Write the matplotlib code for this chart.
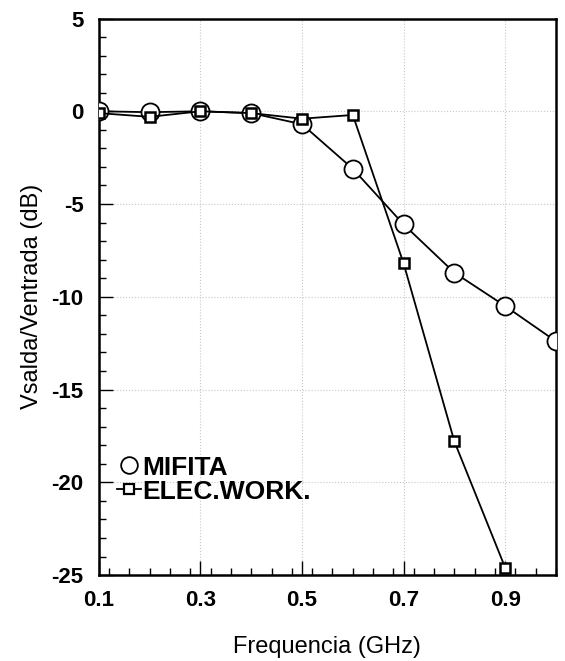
import matplotlib.pyplot as plt
from matplotlib.ticker import MultipleLocator
from matplotlib.lines import Line2D

# datos
freq = [0.1, 0.2, 0.3, 0.4, 0.5, 0.6, 0.7, 0.8, 0.9, 1.0]
mifita = [0.0, -0.05, 0.0, -0.1, -0.7, -3.1, -6.1, -8.7, -10.5, -12.4]
freq_ew = [0.1, 0.2, 0.3, 0.4, 0.5, 0.6, 0.7, 0.8, 0.9]
elecwork = [-0.1, -0.3, 0.0, -0.1, -0.4, -0.2, -8.2, -17.8, -24.6]
xticks = [0.1, 0.3, 0.5, 0.7, 0.9]

plt.rcParams['font.family'] = ['Liberation Sans', 'DejaVu Sans']
plt.rcParams['axes.unicode_minus'] = False

fig = plt.figure(figsize=(5.65, 6.61), dpi=100)
ax = fig.add_axes([0.175, 0.13, 0.809, 0.842])

ax.plot(freq, mifita, color="black", lw=1.3, marker="o", ms=13,
        mfc="white", mec="black", mew=1.3, zorder=3)
ax.plot(freq_ew, elecwork, color="black", lw=1.3, marker="s", ms=7.5,
        mfc="white", mec="black", mew=1.8, zorder=4)

ax.set_xlim(0.1, 1.0)
ax.set_ylim(-25, 5)
ax.set_xticks(xticks)
ax.set_xticklabels([str(x) for x in xticks])
ax.xaxis.set_minor_locator(MultipleLocator(0.04))
ax.yaxis.set_major_locator(MultipleLocator(5))
ax.yaxis.set_minor_locator(MultipleLocator(1))
ax.tick_params(which="both", direction="in", top=False, right=False, labelsize=16)
ax.tick_params(which="major", length=10, width=1)
ax.tick_params(which="minor", length=5, width=1)
ax.tick_params(axis="x", pad=11)
ax.tick_params(axis="y", pad=11)
for lab in ax.get_xticklabels() + ax.get_yticklabels():
    lab.set_fontweight("bold")
ax.grid(True, which="major", color="#c8c8c8", ls=":", lw=0.8)
for s in ax.spines.values():
    s.set_linewidth(1.8)

ax.set_xlabel("Frequencia (GHz)", fontsize=17, labelpad=18)
ax.set_ylabel("Vsalda/Ventrada (dB)", fontsize=17, labelpad=6)

handles = [
    Line2D([], [], ls="none", marker="o", ms=12, mfc="white", mec="black", mew=1.3),
    Line2D([], [], color="black", lw=1.3, marker="s", ms=6.5, mfc="white", mec="black", mew=1.6),
]
ax.legend(handles, ["MIFITA", "ELEC.WORK."], loc="lower left",
          bbox_to_anchor=(0.0, 0.095), frameon=False,
          prop={"size": 19, "weight": "bold"}, handlelength=0.9,
          handletextpad=0.05, borderaxespad=0.3, labelspacing=0.0)

fig.savefig("out.png", dpi=100)
